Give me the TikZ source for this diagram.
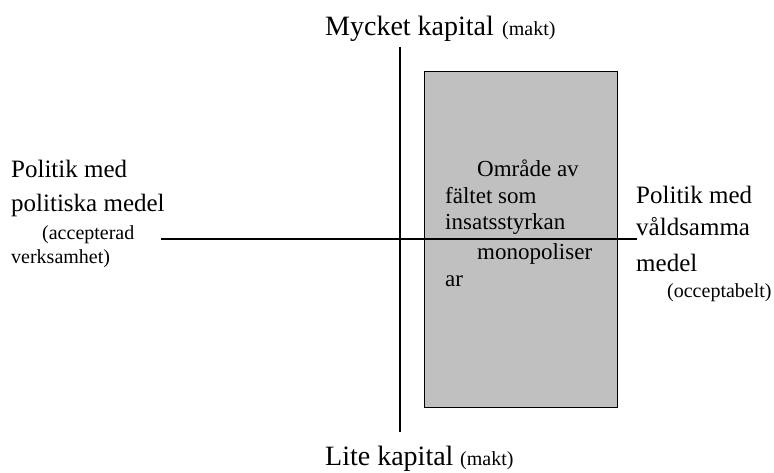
\documentclass[tikz,border=0pt]{standalone}
\usepackage{fontspec}
\setmainfont{Liberation Serif}
\begin{document}
\begin{tikzpicture}[x=1pt,y=-1pt,
  big/.style={anchor=base west,inner sep=0pt,font=\fontsize{28}{32}\selectfont},
  mid/.style={anchor=base west,inner sep=0pt,font=\fontsize{25}{30}\selectfont},
  boxt/.style={anchor=base west,inner sep=0pt,font=\fontsize{23}{27}\selectfont},
  small/.style={anchor=base west,inner sep=0pt,font=\fontsize{20}{24}\selectfont},
  axis/.style={draw=black,line width=1.2pt},
  area/.style={draw=black,line width=1pt,fill={rgb,255:red,192;green,192;blue,192}}]
\useasboundingbox (0,0) rectangle (774,473);
% shaded area
\node[area,minimum width=193pt,minimum height=336pt,inner sep=0pt,anchor=north west] (zone) at (424,71) {};
% axes
\coordinate (ytop) at (400,47);
\coordinate (ybot) at (400,432);
\coordinate (xl) at (161,239);
\coordinate (xr) at (637,239);
\draw[axis] (ytop) -- (ybot);
\draw[axis] (xl) -- (xr);
% top / bottom labels
\node[big] (top1) at (325,36) {Mycket kapital};
\node[small] (top2) at (502,36) {(makt)};
\node[big] (bot1) at (325,465) {Lite kapital};
\node[small] (bot2) at (460,465) {(makt)};
% left labels
\node[mid] (l1) at (11,178) {Politik med};
\node[mid] (l2) at (11,212) {politiska medel};
\node[small] (l3) at (42,240) {(accepterad};
\node[small] (l4) at (11,264) {verksamhet)};
% right labels
\node[mid] (r1) at (636,204) {Politik med};
\node[mid] (r2) at (636,236) {våldsamma};
\node[mid] (r3) at (636,272) {medel};
\node[small] (r4) at (667,298) {(occeptabelt)};
% box text
\node[boxt] (b1) at (477,177) {Område av};
\node[boxt] (b2) at (445,204) {fältet som};
\node[boxt] (b3) at (445,230) {insatsstyrkan};
\node[boxt] (b4) at (477,260) {monopoliser};
\node[boxt] (b5) at (445,287) {ar};
\end{tikzpicture}
\end{document}
